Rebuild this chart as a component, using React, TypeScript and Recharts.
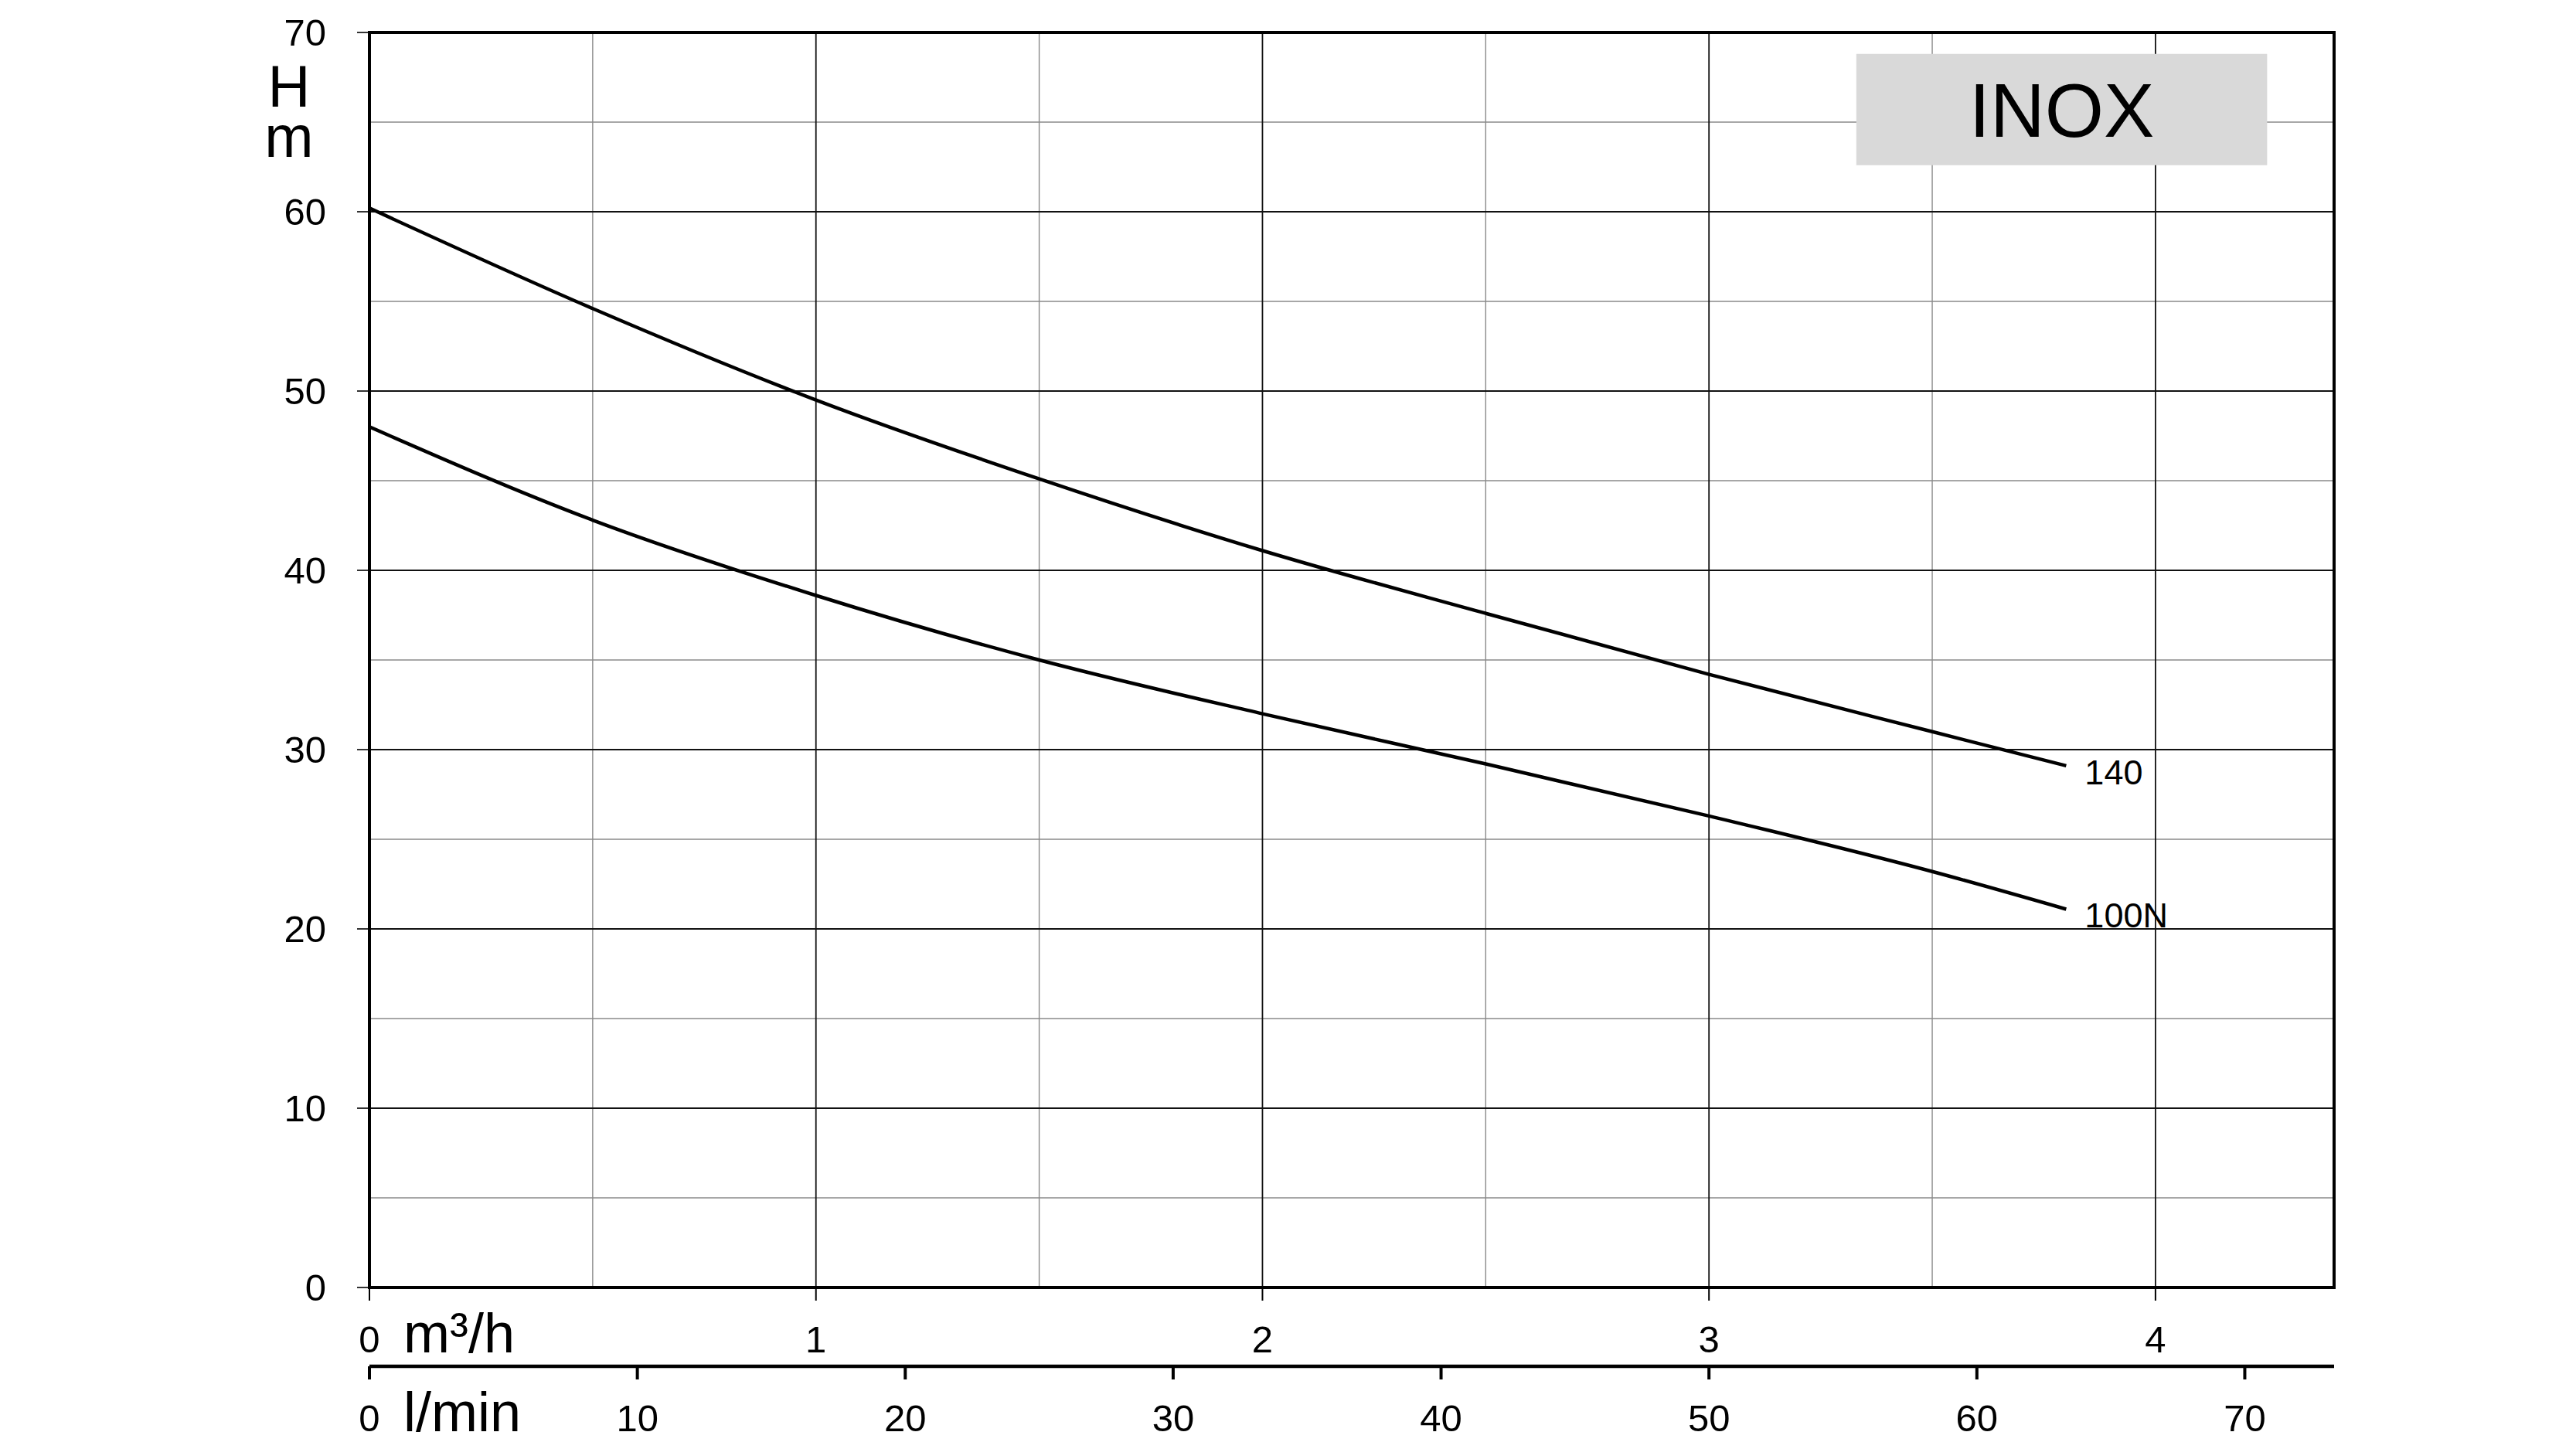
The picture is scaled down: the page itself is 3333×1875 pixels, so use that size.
import React from 'react';
import {
  LineChart,
  Line,
  XAxis,
  YAxis,
  CartesianGrid,
  ReferenceArea,
} from 'recharts';

// flow in m³/h, heads in m
const flowQ = [0, 0.5, 1, 1.5, 2, 2.5, 3, 3.5, 3.8];
const head140 = [60.2, 54.6, 49.5, 45.1, 41.1, 37.6, 34.2, 31.0, 29.1];
const head100N = [48.0, 42.8, 38.6, 35.0, 32.0, 29.2, 26.3, 23.2, 21.1];

const headTicks = [0, 10, 20, 30, 40, 50, 60, 70];
const flowTicks = [0, 1, 2, 3, 4];
const litreTicks = [0, 10, 20, 30, 40, 50, 60, 70];

const headMinor = [5, 15, 25, 35, 45, 55, 65];
const headMajor = [10, 20, 30, 40, 50, 60];
const flowMinor = [0.5, 1.5, 2.5, 3.5];
const flowMajor = [1, 2, 3, 4];

const FLOW_MAX = 4.4;
const HEAD_MAX = 70;
const LPM_PER_M3H = 1000 / 60;
const LPM_MAX = FLOW_MAX * LPM_PER_M3H;

// INOX badge box, in chart units
const badgeX = [3.33, 4.25];
const badgeY = [62.6, 68.8];

const FONT = '"Liberation Sans", Arial, Helvetica, sans-serif';

const data = flowQ.map((q, i) => ({
  q,
  lpm: q * LPM_PER_M3H,
  h140: head140[i],
  h100: head100N[i],
}));

const BottomTick = ({ x, y, payload }: any) => (
  <text x={x} y={y + 67} textAnchor="middle" fontSize={49} fontFamily={FONT} fill="#000">
    {payload.value}
  </text>
);

const LeftTick = ({ x, y, payload }: any) => (
  <text x={x} y={y} dy="0.355em" textAnchor="end" fontSize={49} fontFamily={FONT} fill="#000">
    {payload.value}
  </text>
);

const headUnit = (props: any) => {
  const vb = props.viewBox;
  const cx = vb.x + vb.width - 104;
  return (
    <g fontFamily={FONT} fontSize={76} fill="#000">
      <text x={cx} y={vb.y + 96} textAnchor="middle">H</text>
      <text x={cx} y={vb.y + 161} textAnchor="middle">m</text>
    </g>
  );
};

const axisUnit = (text: string) => (props: any) => {
  const vb = props.viewBox;
  return (
    <text x={vb.x + 44} y={vb.y + 84} fontFamily={FONT} fontSize={72} fill="#000">
      {text}
    </text>
  );
};

const endLabel = (text: string) => (props: any) => {
  if (props.index !== flowQ.length - 1) return null;
  return (
    <text x={props.x + 24} y={props.y + 24} fontFamily={FONT} fontSize={45} fill="#000">
      {text}
    </text>
  );
};

export default function App() {
  return (
    <div style={{ position: 'absolute', left: 0, top: 0, background: '#fff', fontFamily: FONT }}>
      <LineChart
        width={3333}
        height={1875}
        data={data}
        margin={{ top: 42, right: 313, bottom: 27, left: 0 }}
      >
        <CartesianGrid
          horizontalValues={headMinor}
          verticalValues={flowMinor}
          stroke="#8a8a8a"
          strokeWidth={1.4}
        />
        <CartesianGrid
          horizontalValues={headMajor}
          verticalValues={flowMajor}
          stroke="#111"
          strokeWidth={1.8}
        />
        <XAxis
          dataKey="q"
          type="number"
          domain={[0, FLOW_MAX]}
          ticks={flowTicks}
          interval={0}
          allowDataOverflow
          height={102}
          tickSize={17}
          tickMargin={0}
          axisLine={false}
          tickLine={{ stroke: '#000', strokeWidth: 2 }}
          tick={<BottomTick />}
          label={axisUnit('m³/h')}
        />
        <XAxis
          xAxisId="l"
          dataKey="lpm"
          type="number"
          domain={[0, LPM_MAX]}
          ticks={litreTicks}
          interval={0}
          allowDataOverflow
          height={80}
          tickSize={17}
          tickMargin={0}
          axisLine={{ stroke: '#000', strokeWidth: 4.5 }}
          tickLine={{ stroke: '#000', strokeWidth: 4 }}
          tick={<BottomTick />}
          label={axisUnit('l/min')}
        />
        <YAxis
          type="number"
          domain={[0, HEAD_MAX]}
          ticks={headTicks}
          interval={0}
          width={478}
          tickSize={16}
          tickMargin={40}
          axisLine={false}
          tickLine={{ stroke: '#000', strokeWidth: 1.6 }}
          tick={<LeftTick />}
          label={headUnit}
        />
        <ReferenceArea
          x1={badgeX[0]}
          x2={badgeX[1]}
          y1={badgeY[0]}
          y2={badgeY[1]}
          fill="#d9d9d9"
          fillOpacity={1}
          stroke="none"
          label={{ value: 'INOX', position: 'center', fontSize: 98, fill: '#000', fontFamily: FONT }}
        />
        <ReferenceArea
          x1={0}
          x2={FLOW_MAX}
          y1={0}
          y2={HEAD_MAX}
          fill="none"
          fillOpacity={0}
          stroke="#000"
          strokeWidth={4}
        />
        {/* invisible series so the l/min axis gets its scale */}
        <Line
          xAxisId="l"
          dataKey="h140"
          stroke="none"
          dot={false}
          activeDot={false}
          legendType="none"
          isAnimationActive={false}
        />
        <Line
          dataKey="h140"
          type="monotone"
          stroke="#000"
          strokeWidth={4.5}
          dot={false}
          isAnimationActive={false}
          label={endLabel('140')}
        />
        <Line
          dataKey="h100"
          type="monotone"
          stroke="#000"
          strokeWidth={4.5}
          dot={false}
          isAnimationActive={false}
          label={endLabel('100N')}
        />
      </LineChart>
    </div>
  );
}
